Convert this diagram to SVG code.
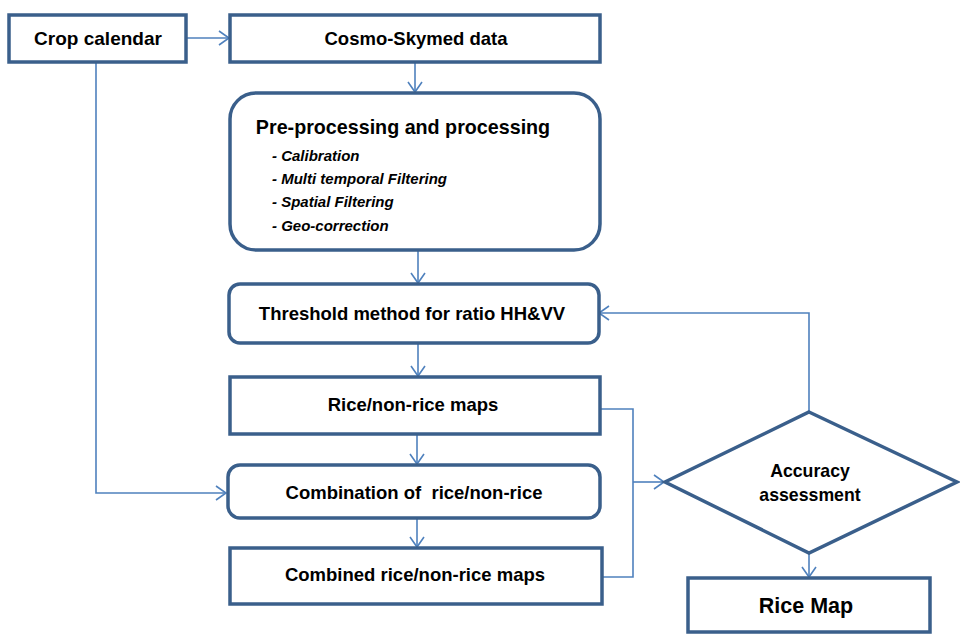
<svg xmlns="http://www.w3.org/2000/svg" width="960" height="640" viewBox="0 0 960 640">
<defs>
<marker id="arr" markerUnits="userSpaceOnUse" markerWidth="14" markerHeight="16" refX="12" refY="8" orient="auto" viewBox="0 0 14 16">
<path d="M2,1 L12,8 L2,15" fill="none" stroke="#4F81BD" stroke-width="1.6"/>
</marker>
<style>
.box{fill:#fff;stroke:#3A5F8B;stroke-width:3.5}
.t{font-family:"Liberation Sans",Arial,sans-serif;font-weight:bold;fill:#000;text-anchor:middle;white-space:pre}
.it{font-family:"Liberation Sans",Arial,sans-serif;font-weight:bold;font-style:italic;font-size:15px;fill:#000}
.c{fill:none;stroke:#4F81BD;stroke-width:1.6}
</style>
</defs>
<rect width="960" height="640" fill="#fff"/>
<g id="connectors">
<path class="c" d="M186,38 H229" marker-end="url(#arr)"/>
<path class="c" d="M415,62 V92" marker-end="url(#arr)"/>
<path class="c" d="M418,250 V283" marker-end="url(#arr)"/>
<path class="c" d="M418,343 V376" marker-end="url(#arr)"/>
<path class="c" d="M417,434 V464" marker-end="url(#arr)"/>
<path class="c" d="M417,518 V547" marker-end="url(#arr)"/>
<path class="c" d="M96,62 V493 H226" marker-end="url(#arr)"/>
<path class="c" d="M600,409 H633 V577 H603"/>
<path class="c" d="M633,482 H664" marker-end="url(#arr)"/>
<path class="c" d="M809,412 V313 H599" marker-end="url(#arr)"/>
<path class="c" d="M809,553 V577" marker-end="url(#arr)"/>
</g>
<g id="crop-calendar">
<rect class="box" x="9" y="15" width="177" height="47"/>
<text class="t" x="98" y="45" font-size="19">Crop calendar</text>
</g>
<g id="cosmo-skymed">
<rect class="box" x="230" y="15" width="370" height="47"/>
<text class="t" x="416" y="45" font-size="18.5">Cosmo-Skymed data</text>
</g>
<g id="preprocessing">
<rect class="box" x="230" y="93" width="370" height="157" rx="26" ry="26"/>
<text class="t" x="403" y="134" font-size="19.7">Pre-processing and processing</text>
<text class="it" x="272" y="161">- Calibration</text>
<text class="it" x="272" y="184">- Multi temporal Filtering</text>
<text class="it" x="272" y="207">- Spatial Filtering</text>
<text class="it" x="272" y="231">- Geo-correction</text>
</g>
<g id="threshold">
<rect class="box" x="229" y="284" width="370" height="59" rx="11" ry="11"/>
<text class="t" x="412" y="320" font-size="18.5">Threshold method for ratio HH&amp;VV</text>
</g>
<g id="rice-nonrice-maps">
<rect class="box" x="230" y="377" width="370" height="57"/>
<text class="t" x="413" y="411" font-size="18.5">Rice/non-rice maps</text>
</g>
<g id="combination">
<rect class="box" x="228" y="465" width="372" height="53" rx="12" ry="12"/>
<text class="t" x="414" y="499" font-size="18.5">Combination of  rice/non-rice</text>
</g>
<g id="combined-maps">
<rect class="box" x="230" y="548" width="372" height="56"/>
<text class="t" x="415" y="581" font-size="18.5">Combined rice/non-rice maps</text>
</g>
<g id="accuracy">
<polygon class="box" points="809,412 957,482 809,553 665,482"/>
<text class="t" x="810" y="477" font-size="17.7">Accuracy</text>
<text class="t" x="810" y="501" font-size="17.7">assessment</text>
</g>
<g id="rice-map">
<rect class="box" x="688" y="578" width="242" height="54"/>
<text class="t" x="806" y="613" font-size="21.5">Rice Map</text>
</g>
</svg>
